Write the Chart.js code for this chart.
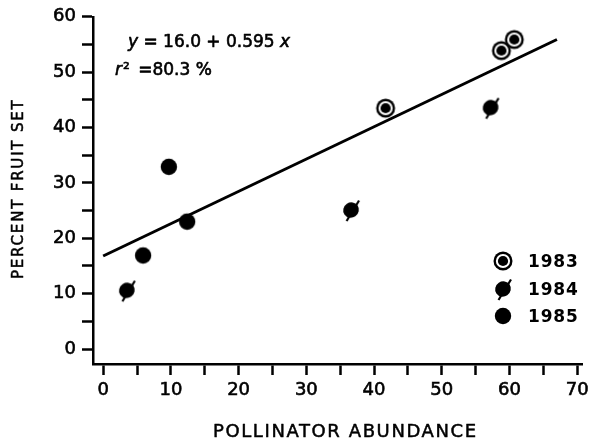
<!DOCTYPE html>
<html>
<head>
<meta charset="utf-8">
<script src="https://cdn.jsdelivr.net/npm/chart.js@4"></script>
<style>
    html, body { margin: 0; padding: 0; background: #fff; }
    #wrap { width: 597px; height: 440px; }
</style>
</head>
<body>
<div id="wrap"><canvas id="chart" width="597" height="440"></canvas></div>
<script>
// data
const years = ['1983', '1984', '1985'];
const abund1983 = [41.7, 58.8, 60.7];
const fruit1983 = [43.5, 53.9, 55.9];
const abund1984 = [3.5, 36.6, 57.2];
const fruit1984 = [10.6, 25.1, 43.6];
const abund1985 = [5.9, 9.7, 12.4];
const fruit1985 = [16.9, 32.9, 23.0];

// fitted line end points
const fitX = [0, 67];
const fitY = [16.8, 55.9];

const xTicks = [0, 5, 10, 15, 20, 25, 30, 35, 40, 45, 50, 55, 60, 65, 70];
const yTicks = [0, 5, 10, 15, 20, 25, 30, 35, 40, 45, 50, 55, 60];
const xTitle = 'POLLINATOR ABUNDANCE';
const yTitle = 'PERCENT FRUIT SET';

const FONT = 'DejaVu Sans';

/**
 * 記号を小さなキャンバスに描く
 */
function makeMarker(kind) {
    const c = document.createElement('canvas');
    c.width = 26;
    c.height = 26;
    const g = c.getContext('2d');
    g.fillStyle = '#000';
    g.strokeStyle = '#000';
    if (kind === 'ring') {
        g.beginPath(); g.arc(13, 13, 9.5, 0, Math.PI * 2); g.fill();
        g.fillStyle = '#fff';
        g.beginPath(); g.arc(13, 13, 7.1, 0, Math.PI * 2); g.fill();
        g.fillStyle = '#000';
        g.beginPath(); g.arc(13, 13, 5.1, 0, Math.PI * 2); g.fill();
    } else if (kind === 'slash') {
        g.beginPath(); g.ellipse(13, 13, 8.0, 7.5, -0.6, 0, Math.PI * 2); g.fill();
        g.lineWidth = 2.2;
        g.beginPath(); g.moveTo(8.5, 24); g.lineTo(21, 3.5); g.stroke();
    } else {
        g.beginPath(); g.arc(13, 13, 8.2, 0, Math.PI * 2); g.fill();
    }
    return c;
}

const markers = [makeMarker('ring'), makeMarker('slash'), makeMarker('dot')];

function toPoints(xs, ys) {
    return xs.map((x, i) => ({ x: x, y: ys[i] }));
}

// 印刷っぽく少し太らせて描く
function inkText(ctx, text, x, y, w) {
    ctx.lineWidth = w;
    ctx.lineJoin = 'round';
    ctx.strokeText(text, x, y);
    ctx.fillText(text, x, y);
}

function drawRuns(ctx, runs, x, y) {
    runs.forEach(run => {
        ctx.font = (run.italic ? 'italic ' : '') + run.size + 'px "' + FONT + '"';
        inkText(ctx, run.text, x + (run.dx || 0), y, 0.6);
        x += ctx.measureText(run.text).width + (run.dx || 0);
    });
}

const annotations = {
    id: 'annotations',
    afterDraw(chart) {
        const ctx = chart.ctx;
        ctx.save();
        ctx.fillStyle = '#000';
        ctx.strokeStyle = '#000';
        ctx.textAlign = 'left';
        ctx.textBaseline = 'alphabetic';

        // regression equation
        drawRuns(ctx, [
            { text: 'y', italic: true, size: 17 },
            { text: ' = 16.0 + 0.595 ', size: 17 },
            { text: 'x', italic: true, size: 17 }
        ], 128, 47);
        drawRuns(ctx, [
            { text: 'r', italic: true, size: 17 },
            { text: '²', size: 17, dx: 1 },
            { text: ' =80.3 %', size: 17, dx: 3 }
        ], 115, 75);

        // legend
        const legendY = [261, 289, 316];
        ctx.font = 'bold 17px "' + FONT + '"';
        ctx.letterSpacing = '0.8px';
        years.forEach((label, i) => {
            ctx.drawImage(markers[i], 503 - 13, legendY[i] - 13);
            ctx.fillText(label, 528, legendY[i] + 6);
        });

        // axis titles
        ctx.font = '18px "' + FONT + '"';
        ctx.letterSpacing = '1.6px';
        inkText(ctx, xTitle, 213, 437, 0.5);

        ctx.font = '15px "' + FONT + '"';
        ctx.letterSpacing = '1.8px';
        ctx.translate(23, 279);
        ctx.rotate(-Math.PI / 2);
        inkText(ctx, yTitle, 0, 0, 0.5);
        ctx.restore();
    }
};

const axisGrid = {
    drawOnChartArea: false,
    drawTicks: true,
    tickLength: 11,
    tickWidth: 2.5,
    tickColor: '#000'
};

const tickFont = { family: FONT, size: 18 };

new Chart(document.getElementById('chart').getContext('2d'), {
    type: 'scatter',
    data: {
        datasets: [
            {
                label: years[0],
                data: toPoints(abund1983, fruit1983),
                pointStyle: markers[0],
                clip: false
            },
            {
                label: years[1],
                data: toPoints(abund1984, fruit1984),
                pointStyle: markers[1],
                clip: false
            },
            {
                label: years[2],
                data: toPoints(abund1985, fruit1985),
                pointStyle: markers[2],
                clip: false
            },
            {
                label: 'fit',
                type: 'line',
                data: toPoints(fitX, fitY),
                borderColor: '#000',
                borderWidth: 3,
                pointRadius: 0,
                fill: false,
                tension: 0
            }
        ]
    },
    options: {
        responsive: false,
        animation: false,
        events: [],
        layout: {
            padding: { left: 0, right: 15, top: 15, bottom: 0 }
        },
        plugins: {
            legend: { display: false },
            tooltip: { enabled: false }
        },
        scales: {
            x: {
                type: 'linear',
                min: -1.5,
                max: 70.7,
                afterBuildTicks: axis => { axis.ticks = xTicks.map(v => ({ value: v })); },
                afterFit: axis => { axis.height = 76; },
                grid: axisGrid,
                border: { display: true, color: '#000', width: 2.5 },
                ticks: {
                    autoSkip: false,
                    maxRotation: 0,
                    padding: 5,
                    color: '#000',
                    textStrokeColor: '#000',
                    textStrokeWidth: 0.6,
                    font: tickFont,
                    callback: value => (value % 10 === 0 ? String(value) : '')
                }
            },
            y: {
                type: 'linear',
                min: -2.7,
                max: 60,
                afterBuildTicks: axis => { axis.ticks = yTicks.map(v => ({ value: v })); },
                afterFit: axis => { axis.width = 93; },
                grid: axisGrid,
                border: { display: true, color: '#000', width: 2.5 },
                ticks: {
                    autoSkip: false,
                    padding: 6,
                    color: '#000',
                    textStrokeColor: '#000',
                    textStrokeWidth: 0.6,
                    font: tickFont,
                    callback: value => (value % 10 === 0 ? String(value) : '')
                }
            }
        }
    },
    plugins: [annotations]
});
</script>
</body>
</html>
